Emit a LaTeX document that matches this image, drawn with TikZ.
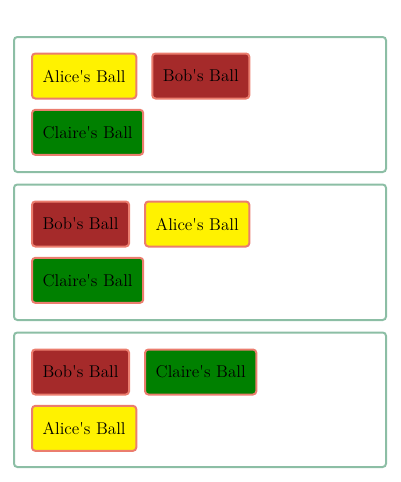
\documentclass[tikz,border=0pt]{standalone}
\usepackage{tikz}
\usetikzlibrary{positioning}

\definecolor{panelgreen}{RGB}{140,190,165}
\definecolor{ballborder}{RGB}{235,125,110}
\definecolor{brownball}{RGB}{165,42,42}
\definecolor{greenball}{RGB}{0,128,0}

\newcommand{\ballname}[1]{#1\textquotesingle s Ball}

\tikzset{
  panel/.style={draw=panelgreen,line width=1.5pt,rounded corners=2.5pt},
  ball/.style={draw=ballborder,line width=1.5pt,rounded corners=2.5pt,
    minimum height=33.75pt,inner xsep=8pt,font=\fontsize{12.8}{15}\selectfont,anchor=north west},
  alice/.style={ball,fill=yellow},
  bob/.style={ball,fill=brownball},
  claire/.style={ball,fill=greenball}
}

\begin{document}
\begin{tikzpicture}[x=0.75pt,y=-0.75pt,node distance=7pt and 10.5pt]

\useasboundingbox (0,0) rectangle (400,482);

	% first arrangement
	\draw[panel] (14,37) rectangle (386,172);
	\node[alice] (alice1) at (31,52.5) {\ballname{Alice}};
	\node[bob,right=of alice1] (bob1) {\ballname{Bob}};
	\node[claire,below=of alice1.south west,anchor=north west] (claire1) {\ballname{Claire}};

	% second arrangement
	\draw[panel] (14,184.5) rectangle (386,320);
	\node[bob] (bob2) at (31,200.5) {\ballname{Bob}};
	\node[alice,right=of bob2] (alice2) {\ballname{Alice}};
	\node[claire,below=of bob2.south west,anchor=north west] (claire2) {\ballname{Claire}};

	% third arrangement
	\draw[panel] (14,332.5) rectangle (386,467);
	\node[bob] (bob3) at (31,348.5) {\ballname{Bob}};
	\node[claire,right=of bob3] (claire3) {\ballname{Claire}};
	\node[alice,below=of bob3.south west,anchor=north west] (alice3) {\ballname{Alice}};

\end{tikzpicture}
\end{document}
